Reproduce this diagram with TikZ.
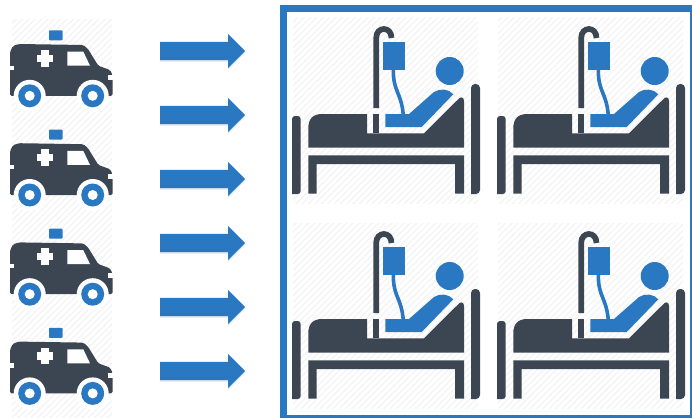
\documentclass[tikz,border=0pt]{standalone}
\usetikzlibrary{patterns.meta,shapes.arrows,shadows}
\definecolor{icondark}{HTML}{3C4652}
\definecolor{iconblue}{HTML}{2B78C2}
\tikzset{
  hatchbg/.style={pattern={Lines[angle=45,distance=4.5pt,line width=1.6pt]},pattern color=black!4},
  flowarrow/.style={single arrow,anchor=west,fill=iconblue,inner xsep=0pt,inner ysep=8.9pt,minimum height=85pt,
    single arrow head extend=7.9pt,single arrow tip angle=90,
    drop shadow={shadow xshift=0pt,shadow yshift=-1.5pt,opacity=.18,fill=iconblue}},
  % coordinates inside the two pics are those of the top left copy
  ambulanceicon/.pic={
    \fill[hatchbg] (12,20) rectangle (112,120);
    \fill[iconblue,rounded corners=0.8pt] (49,30.3) rectangle (62.5,40.3);
    \fill[icondark,rounded corners=1.5pt] (10,95.8) -- (10,52) -- (13,46) -- (19,44) -- (83.3,45)
      -- (88,49) -- (98.3,65.7) -- (110,70) -- (112.5,75) -- (112.5,95.8) -- cycle;
    \fill[white] (67.3,51.7) -- (83.3,51.7) -- (90,65.7) -- (67.3,65.7) -- cycle;
    \fill[white] (41.3,50) rectangle (48.7,66.7);
    \fill[white] (36.7,54.6) rectangle (53.3,62);
    \fill[white] (10,65.7) rectangle (14,70);
    \fill[white] (107.5,75) rectangle (112.5,80);
    \foreach \wx in {29.7,92.7}
      {\fill[white] (\wx,95.8) circle (16);
       \fill[iconblue] (\wx,95.8) circle (11.5);
       \fill[white] (\wx,95.8) circle (5);}
  },
  bedicon/.pic={
    \fill[hatchbg] (293,18) rectangle (478,203);
    % bed posts, frame and mattress
    \fill[icondark,rounded corners=3pt] (292,194) -- (292,116) -- (300.7,116) -- (300.7,194) [sharp corners] -- cycle;
    \fill[icondark,rounded corners=4pt] (471,194) -- (471,84) -- (480,84) -- (480,194) [sharp corners] -- cycle;
    \fill[icondark] (308.3,193.7) -- (308.3,155.3) -- (464,155.3) -- (464,193.7) -- (455,193.7)
      -- (455,164) -- (316.7,164) -- (316.7,193.7) -- cycle;
    \fill[icondark] (308.3,147.7) -- (308.3,128) .. controls (308.3,119) and (313,114) .. (322,114)
      -- (367,114) -- (367,133.3) -- (424,133.3) -- (458,99.5)
      .. controls (460,96.5) and (464,96.5) .. (464,101) -- (464,147.7) -- cycle;
    % drip stand
    \fill[icondark] (373.3,114) rectangle (379,133.3);
    \draw[icondark,line width=5.7pt] (376.2,108) -- (376.2,38)
      .. controls (376.2,26) and (391.5,26) .. (391.5,38);
    % drip bag and tube
    \fill[iconblue] (383,42.3) rectangle (405,70.3);
    \draw[iconblue,line width=3.6pt] (393.3,70) .. controls (393.3,92) and (401,92) .. (403.2,114);
    % patient
    \fill[iconblue] (449.7,71) circle (14);
    \fill[iconblue] (385.3,114) -- (409,114) -- (434,92)
      .. controls (440,88) and (449,89) .. (453.3,94.3) -- (421.7,127) -- (385.3,127) -- cycle;
  }
}
\begin{document}
\begin{tikzpicture}[x=1pt,y=-1pt]
\useasboundingbox (0,0) rectangle (692,417);
% ambulances
\foreach \i in {0,1,2,3}
  {\pic (amb\i) at (0,{99.2*\i}) {ambulanceicon};}
% arrows
\foreach \i in {0,...,5}
  {\node[flowarrow] (arrow\i) at (160,{51+64*\i}) {};}
% ward
\node[draw=iconblue,line width=7pt,inner sep=0pt,minimum width=410pt,minimum height=410pt] (ward) at (488.5,213.5) {};
\foreach \dx/\dy in {0/0,205/0,0/205,205/205}
  {\pic (bed\dx\dy) at (\dx,\dy) {bedicon};}
\end{tikzpicture}
\end{document}
